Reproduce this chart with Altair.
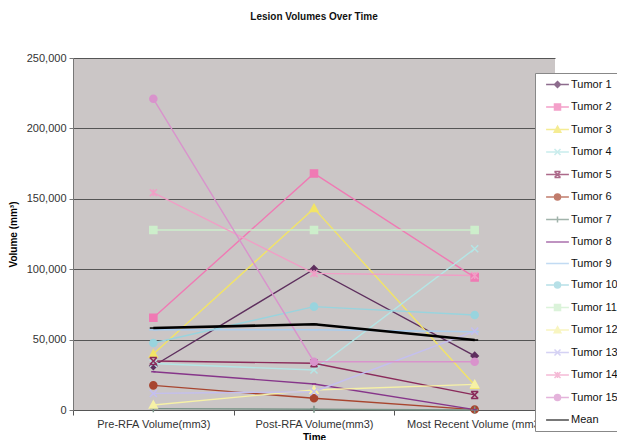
import altair as alt
import pandas as pd

categories = ["Pre-RFA Volume(mm3)", "Post-RFA Volume(mm3)", "Most Recent Volume (mm3)"]
series_names = ["Tumor 1", "Tumor 2", "Tumor 3", "Tumor 4", "Tumor 5", "Tumor 6", "Tumor 7",
                "Tumor 8", "Tumor 9", "Tumor 10", "Tumor 11", "Tumor 12", "Tumor 13",
                "Tumor 14", "Tumor 15", "Mean"]
tumor1 = [31250, 100000, 38400]
tumor2 = [65500, 168000, 94200]
tumor3 = [39800, 143200, 17700]
tumor4 = [33000, 28400, 114500]
tumor5 = [34800, 33200, 10700]
tumor6 = [17500, 8300, 300]
tumor7 = [1000, 500, 0]
tumor8 = [27200, 18500, 300]
tumor9 = [57000, 57000, 55600]
tumor10 = [47600, 73400, 67500]
tumor11 = [127800, 127800, 127800]
tumor12 = [3600, 14200, 18200]
tumor13 = [11800, 13000, 56000]
tumor14 = [154300, 97000, 95500]
tumor15 = [221000, 34300, 34300]
mean = [58200, 60900, 49700]

values = [tumor1, tumor2, tumor3, tumor4, tumor5, tumor6, tumor7, tumor8, tumor9,
          tumor10, tumor11, tumor12, tumor13, tumor14, tumor15, mean]

colors = ["#5e2f5e", "#f07ab4", "#f2e466", "#b4e6e6", "#8a2a5a", "#a8452f", "#7a9488",
          "#86358a", "#a9cdee", "#98d4de", "#cdeecb", "#f6f1a6", "#c4bff0", "#f19ec6",
          "#d993cc", "#000000"]

shapes = [
    "M0,-1L1,0L0,1L-1,0Z",
    "M-1,-1H1V1H-1Z",
    "M0,-1.1L1.1,0.9H-1.1Z",
    "M-1,-1L1,1M-1,1L1,-1",
    "M-1,-1L1,1M-1,1L1,-1M-1,-1H1M-1,1H1",
    "M-1,0A1,1 0 1,0 1,0A1,1 0 1,0 -1,0Z",
    "M-1,0H1M0,-1V1",
    "M-0.6,0H0.6",
    "M-1.2,0H1.2",
    "M-1,0A1,1 0 1,0 1,0A1,1 0 1,0 -1,0Z",
    "M-1,-1H1V1H-1Z",
    "M0,-1.1L1.1,0.9H-1.1Z",
    "M-1,-1L1,1M-1,1L1,-1",
    "M-1,-1L1,1M-1,1L1,-1M0,-1V1",
    "M-1,0A1,1 0 1,0 1,0A1,1 0 1,0 -1,0Z",
    "M-1,0H1",
]
legend_shapes = ["M-3.8,0H3.8 " + s for s in shapes]

rows = []
for name, vals in zip(series_names, values):
    for cat, v in zip(categories, vals):
        rows.append({"series": name, "time": cat, "volume": v})
df = pd.DataFrame(rows)

FONT = "Liberation Sans"

x_enc = alt.X("time:N", sort=categories,
              scale=alt.Scale(type="band", paddingInner=0, paddingOuter=0),
              axis=alt.Axis(title="Time", labelAngle=0, tickBand="extent", grid=False,
                            labelFontSize=11, labelColor="#333", labelPadding=3,
                            domainColor="#555", tickColor="#555", tickSize=5,
                            titleFontSize=10, titleFontWeight="bold",
                            titleY=30, titleBaseline="alphabetic"))
y_enc = alt.Y("volume:Q",
              scale=alt.Scale(domain=[0, 250000], nice=False),
              axis=alt.Axis(title="Volume (mm³)", values=[0, 50000, 100000, 150000, 200000, 250000],
                            format=",.0f", labelFontSize=11, labelColor="#333", labelPadding=3,
                            gridColor="#555", gridWidth=1, domainColor="#777", tickColor="#777",
                            tickSize=4, titleFontSize=10, titleFontWeight="bold", titlePadding=8))

color_scale = alt.Scale(domain=series_names, range=colors)
legend_shape_scale = alt.Scale(domain=series_names, range=legend_shapes)

legend = alt.Legend(title=None, orient="none", legendX=462, legendY=15,
                    fillColor="white", strokeColor="#888", padding=6,
                    labelFontSize=11, labelColor="#111", labelFont=FONT,
                    symbolSize=36, symbolOffset=11, labelOffset=8,
                    symbolStrokeWidth=1.5)

base = alt.Chart(df)

tumor_lines = base.transform_filter(alt.datum.series != "Mean").mark_line(strokeWidth=1.4).encode(
    x=x_enc, y=y_enc,
    color=alt.Color("series:N", scale=color_scale, legend=None),
)
mean_line = base.transform_filter(alt.datum.series == "Mean").mark_line(strokeWidth=2.5).encode(
    x=x_enc, y=y_enc,
    color=alt.Color("series:N", scale=color_scale, legend=None),
)

point_layers = []
for name, col, shp in zip(series_names, colors, shapes):
    point_layers.append(
        base.transform_filter(alt.datum.series == name).mark_point(
            filled=True, size=50, strokeWidth=1.5, opacity=1, shape=shp, color=col, stroke=col
        ).encode(x=x_enc, y=y_enc)
    )

# zero-size layer that only feeds the legend (line + marker symbols)
legend_layer = base.mark_point(filled=True, strokeWidth=1.5, size=0).encode(
    x=x_enc, y=y_enc,
    color=alt.Color("series:N", scale=color_scale, legend=legend),
    stroke=alt.Stroke("series:N", scale=color_scale, legend=None),
    shape=alt.Shape("series:N", scale=legend_shape_scale, legend=legend),
)

chart = alt.layer(legend_layer, tumor_lines, *point_layers[:-1], mean_line, point_layers[-1]).properties(
    width=482, height=352,
    autosize=alt.AutoSizeParams(type="none"),
    padding={"left": 65, "top": 50, "right": 62, "bottom": 30},
    title=alt.Title("Lesion Volumes Over Time", fontSize=10, fontWeight="bold", font=FONT,
                    color="#111", offset=30, anchor="middle"),
    background="white",
).configure(font=FONT).configure_view(fill="#cbc6c6", strokeWidth=0).configure_axis(
    labelFont=FONT, titleFont=FONT
).configure_legend(rowPadding=9.5)

chart.save("out.html", embed_options={"renderer": "svg", "actions": False})
